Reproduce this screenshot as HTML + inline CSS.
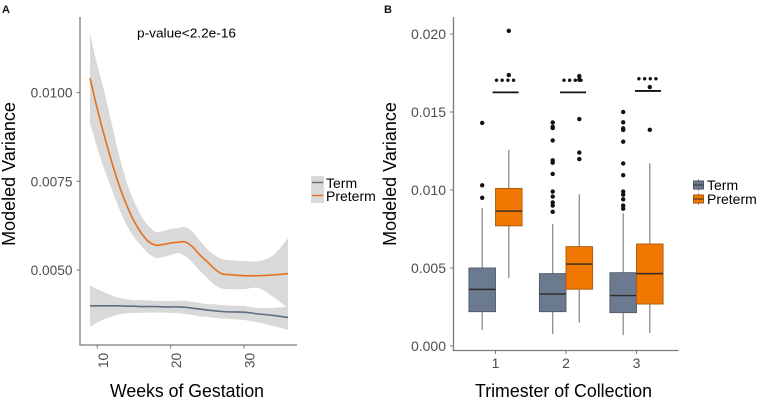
<!DOCTYPE html>
<html>
<head>
<meta charset="utf-8">
<title>Modeled Variance Charts</title>
<style>
html,body{margin:0;padding:0;background:#fff;}
body{width:758px;height:400px;overflow:hidden;}
svg{display:block;filter:blur(0.35px);}
text{font-family:"Liberation Sans",sans-serif;}
</style>
</head>
<body>
<svg id="figure" xmlns="http://www.w3.org/2000/svg" width="758" height="400" viewBox="0 0 758 400">
  <text x="2" y="13" font-size="11" font-weight="bold" fill="#111">A</text>
  <text x="384" y="13" font-size="11" font-weight="bold" fill="#111">B</text>
  <text x="137" y="37.5" font-size="13" fill="#000" textLength="99" lengthAdjust="spacingAndGlyphs">p-value&lt;2.2e-16</text>
  <text transform="translate(15,174) rotate(-90)" text-anchor="middle" font-size="18" fill="#000">Modeled Variance</text>
  <text transform="translate(396,174) rotate(-90)" text-anchor="middle" font-size="18" fill="#000">Modeled Variance</text>
  <text x="110" y="397" font-size="18" fill="#000" textLength="154" lengthAdjust="spacingAndGlyphs">Weeks of Gestation</text>
  <text x="475" y="397" font-size="18" fill="#000" textLength="177" lengthAdjust="spacingAndGlyphs">Trimester of Collection</text>

  <g id="panelA"></g>
  <g id="panelB"></g>

  <g>
    <rect x="311" y="176" width="13" height="27" fill="#d9d9d9"/>
    <line x1="312" x2="323" y1="182.5" y2="182.5" stroke="#5f6d80" stroke-width="1.4"/>
    <line x1="312" x2="323" y1="195.5" y2="195.5" stroke="#e56f1c" stroke-width="1.4"/>
    <text x="326" y="188" font-size="14" fill="#000">Term</text>
    <text x="326" y="201" font-size="14" fill="#000">Preterm</text>
  </g>
  <g>
    <line x1="698.5" x2="698.5" y1="179" y2="191" stroke="#888"/>
    <rect x="693.5" y="181" width="10" height="8" fill="#6b7a8f" stroke="#4f5a68"/>
    <line x1="693.5" x2="703.5" y1="185" y2="185" stroke="#333"/>
    <line x1="698.5" x2="698.5" y1="193" y2="205" stroke="#888"/>
    <rect x="693.5" y="195" width="10" height="8" fill="#f07800" stroke="#a85a10"/>
    <line x1="693.5" x2="703.5" y1="199" y2="199" stroke="#333"/>
    <text x="707" y="190" font-size="14" fill="#000">Term</text>
    <text x="707" y="204" font-size="14" fill="#000">Preterm</text>
  </g>
</svg>
<script>
// Panel A data
const weeks = [9,10,11,12,13,14,15,16,17,18,19,20,21,22,23,24,25,26,27,28,30,32,34,36];
const pretermMean = [.01041,.00954,.00875,.00802,.00737,.00683,.00638,.00604,.0058,.0057,.00572,.00576,.00578,.00579,.00565,.00542,.00523,.00503,.00489,.00487,.00484,.00484,.00486,.0049];
const pretermUpper = [.01168,.01078,.00999,.00909,.00822,.00748,.00694,.00652,.00624,.00607,.0061,.00616,.00618,.00621,.00607,.00582,.00559,.00542,.00531,.00528,.00525,.00525,.00542,.0059];
const pretermLower = [.00914,.00844,.00781,.00725,.00672,.00627,.00593,.00568,.00546,.00534,.00537,.00542,.00548,.00539,.0052,.00497,.00477,.00458,.00448,.00446,.00446,.00449,.00424,.00393];
const termMean = [.00399,.00399,.00399,.00399,.00399,.00398,.00398,.00397,.00397,.00397,.00396,.00396,.00396,.00395,.00392,.0039,.00387,.00385,.00383,.00382,.00381,.00376,.00372,.00366];
const termUpper = [.00456,.00446,.00437,.00428,.00421,.00418,.00415,.00415,.00414,.00413,.00413,.00413,.00413,.00413,.0041,.00407,.00404,.00403,.00401,.004,.00399,.00393,.00393,.00397];
const termLower = [.0034,.00352,.00362,.00369,.00375,.00378,.00379,.00379,.0038,.0038,.0038,.00379,.00378,.00376,.00373,.00369,.00368,.00365,.00363,.00362,.00359,.00352,.00342,.00331];
const aYTicks = [0.005,0.0075,0.01];
const aYTickLabels = ["0.0050","0.0075","0.0100"];
const aXTicks = [10,20,30];
const aXTickLabels = ["10","20","30"];

// Panel B data
const trimesters = [1,2,3];
const bYTicks = [0,0.005,0.01,0.015,0.02];
const bYTickLabels = ["0.000","0.005","0.010","0.015","0.020"];
const termQ1 = [.0022,.0022,.00214];
const termMedian = [.00363,.00333,.00323];
const termQ3 = [.0050,.00464,.0047];
const termWhiskerLow = [.00103,.00077,.0007];
const termWhiskerHigh = [.00885,.00783,.00852];
const termOutliers = [
  [.0143,.0103,.0095],
  [.01433,.01405,.01397,.01318,.0119,.01175,.01103,.0099,.00958,.0092,.0090,.0086],
  [.0150,.01434,.01395,.01385,.0131,.0117,.01095,.0099,.0097,.0094,.0090,.0088]
];
const pretermQ1 = [.0077,.00364,.00269];
const pretermMedian = [.00865,.00525,.00464];
const pretermQ3 = [.0101,.00637,.00654];
const pretermWhiskerLow = [.00436,.0015,.00083];
const pretermWhiskerHigh = [.01257,.00973,.01172];
const pretermOutliers = [
  [.0202,.01737],
  [.0173,.01707,.01455,.0124,.01198],
  [.0166,.01386]
];
const sigCenters = [1.143,2.1,3.163];
const sigBarLevels = [.01626,.01626,.01635];
const sigStarLevels = [.0170,.0170,.01707];
const sigLabels = ["••••","••••","••••"];

// Axis functions
const axX = w => 97.3 + (w - 10) * 7.335;
const ayY = v => 270 - (v - 0.005) * 35480;
const bxX = c => 495.5 + (c - 1) * 70.5;
const byY = v => 346 - v * 15600;
const SVGNS = "http://www.w3.org/2000/svg";
const panelA = document.getElementById("panelA");
const panelB = document.getElementById("panelB");

function make(parent, tag, attrs, txt) {
  const el = document.createElementNS(SVGNS, tag);
  for (const k in attrs) el.setAttribute(k, attrs[k]);
  if (txt !== undefined) el.textContent = txt;
  parent.appendChild(el);
  return el;
}
function curve(pts) {
  let d = "M" + pts[0][0].toFixed(2) + "," + pts[0][1].toFixed(2);
  for (let i = 0; i < pts.length - 1; i++) {
    const p0 = pts[Math.max(i - 1, 0)], p1 = pts[i], p2 = pts[i + 1], p3 = pts[Math.min(i + 2, pts.length - 1)];
    const c1x = p1[0] + (p2[0] - p0[0]) / 6, c1y = p1[1] + (p2[1] - p0[1]) / 6;
    const c2x = p2[0] - (p3[0] - p1[0]) / 6, c2y = p2[1] - (p3[1] - p1[1]) / 6;
    d += "C" + c1x.toFixed(2) + "," + c1y.toFixed(2) + " " + c2x.toFixed(2) + "," + c2y.toFixed(2) + " " + p2[0].toFixed(2) + "," + p2[1].toFixed(2);
  }
  return d;
}
const toPts = vals => vals.map((v, i) => [axX(weeks[i]), ayY(v)]);
function ribbonPath(upper, lower) {
  const up = curve(toPts(upper));
  const low = curve(toPts(lower).reverse());
  return up + "L" + low.slice(1) + "Z";
}

// Panel A marks
const ribbonPre = make(panelA, "path", {d: ribbonPath(pretermUpper, pretermLower), fill: "#d9d9d9"});


const ribbonTerm = make(panelA, "path", {d: ribbonPath(termUpper, termLower), fill: "#d9d9d9"});


const lineTerm = make(panelA, "path", {d: curve(toPts(termMean)), fill: "none", stroke: "#5f6d80", "stroke-width": 1.6});


const linePre = make(panelA, "path", {d: curve(toPts(pretermMean)), fill: "none", stroke: "#e56f1c", "stroke-width": 1.6});



const aAxisY = make(panelA, "line", {x1: 80, x2: 80, y1: 17, y2: 345.5, stroke: "#7a7a7a", "stroke-width": 1.3});


const aAxisX = make(panelA, "line", {x1: 79.4, x2: 297, y1: 345, y2: 345, stroke: "#7a7a7a", "stroke-width": 1.3});



aYTicks.forEach((v, i) => {
  const t = make(panelA, "line", {x1: 76.5, x2: 80, y1: ayY(v), y2: ayY(v), stroke: "#7a7a7a", "stroke-width": 1});
  
  
  const l = make(panelA, "text", {x: 72.5, y: ayY(v) + 5, "text-anchor": "end", "font-size": 13.7, fill: "#4d4d4d"}, aYTickLabels[i]);
  
  
});
aXTicks.forEach((w, i) => {
  const t = make(panelA, "line", {x1: axX(w), x2: axX(w), y1: 345, y2: 348.5, stroke: "#7a7a7a", "stroke-width": 1});
  
  
  const l = make(panelA, "text", {transform: "translate(" + (axX(w) + 10.5) + ",360.5) rotate(-90)", "text-anchor": "middle", "font-size": 13.7, fill: "#4d4d4d"}, aXTickLabels[i]);
  
  
});

// Panel B marks
function drawBox(cat, offset, q1, med, q3, lo, hi, outs, fill, stroke, label) {
  const cx = bxX(cat) + offset;
  const hw = 13.3;
  const wh = make(panelB, "line", {x1: cx, x2: cx, y1: byY(hi), y2: byY(lo), stroke: "#8c8c8c", "stroke-width": 1.3});
  
  
  const box = make(panelB, "rect", {x: cx - hw, y: byY(q3), width: hw * 2, height: byY(q1) - byY(q3), fill: fill, stroke: stroke, "stroke-width": 0.9});
  
  
  const m = make(panelB, "line", {x1: cx - hw, x2: cx + hw, y1: byY(med), y2: byY(med), stroke: "#2b2b2b", "stroke-width": 1.4});
  
  
  outs.forEach(v => {
    const c = make(panelB, "circle", {cx: cx, cy: byY(v), r: 2.2, fill: "#111"});
    
    
  });
}
trimesters.forEach((c, i) => {
  drawBox(c, -13.3, termQ1[i], termMedian[i], termQ3[i], termWhiskerLow[i], termWhiskerHigh[i], termOutliers[i], "#6b7a8f", "#4f5a68", "term-t" + c);
});
trimesters.forEach((c, i) => {
  drawBox(c, 13.3, pretermQ1[i], pretermMedian[i], pretermQ3[i], pretermWhiskerLow[i], pretermWhiskerHigh[i], pretermOutliers[i], "#f07800", "#a85a10", "preterm-t" + c);
});
sigCenters.forEach((c, i) => {
  const b = make(panelB, "line", {x1: bxX(c) - 13, x2: bxX(c) + 13, y1: byY(sigBarLevels[i]), y2: byY(sigBarLevels[i]), stroke: "#111", "stroke-width": 1.8});
  
  
  const s = make(panelB, "text", {x: bxX(c), y: byY(sigStarLevels[i]) + 3.5, "text-anchor": "middle", "font-size": 13, "letter-spacing": 1.1, fill: "#111"}, sigLabels[i]);
  
  
});

const bAxisY = make(panelB, "line", {x1: 453.5, x2: 453.5, y1: 17, y2: 351, stroke: "#7a7a7a", "stroke-width": 1.3});


const bAxisX = make(panelB, "line", {x1: 452.9, x2: 678.5, y1: 350.5, y2: 350.5, stroke: "#7a7a7a", "stroke-width": 1.3});


bYTicks.forEach((v, i) => {
  const t = make(panelB, "line", {x1: 450, x2: 453.5, y1: byY(v), y2: byY(v), stroke: "#7a7a7a", "stroke-width": 1});
  
  
  const l = make(panelB, "text", {x: 446, y: byY(v) + 5, "text-anchor": "end", "font-size": 14, fill: "#4d4d4d"}, bYTickLabels[i]);
  
  
});
trimesters.forEach(c => {
  const t = make(panelB, "line", {x1: bxX(c), x2: bxX(c), y1: 350.5, y2: 354, stroke: "#7a7a7a", "stroke-width": 1});
  
  
  const l = make(panelB, "text", {x: bxX(c), y: 368, "text-anchor": "middle", "font-size": 14, fill: "#4d4d4d"}, String(c));
  
  
});
</script>
</body>
</html>
